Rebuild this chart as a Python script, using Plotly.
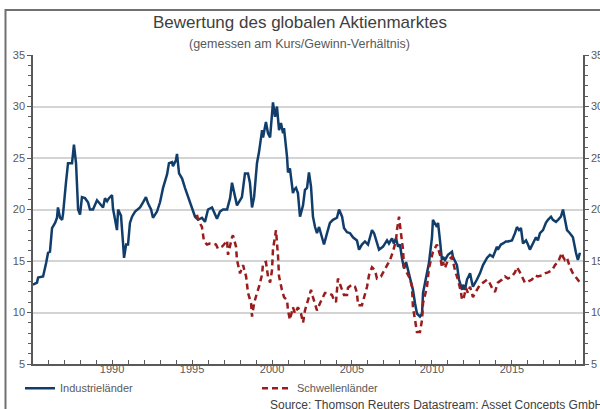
import plotly.graph_objects as go

# ---- data (decimal years, P/E values) ----
ind_years = [1985.06, 1985.31, 1985.38, 1985.69, 1985.88, 1986.00, 1986.12, 1986.25, 1986.44, 1986.56,
             1986.62, 1986.75, 1986.88, 1986.94, 1987.12, 1987.25, 1987.50, 1987.62, 1987.75, 1987.88,
             1988.00, 1988.12, 1988.31, 1988.50, 1988.62, 1988.81, 1989.06, 1989.25, 1989.44, 1989.56,
             1989.69, 1989.81, 1990.00, 1990.06, 1990.25, 1990.31, 1990.38, 1990.56, 1990.69, 1990.75,
             1990.88, 1991.00, 1991.12, 1991.25, 1991.44, 1991.62, 1991.75, 1991.94, 1992.12, 1992.25,
             1992.44, 1992.56, 1992.81, 1993.00, 1993.19, 1993.44, 1993.56, 1993.75, 1993.81, 1994.00,
             1994.06, 1994.19, 1994.38, 1994.56, 1994.75, 1994.88, 1995.00, 1995.19, 1995.38, 1995.62,
             1995.81, 1996.00, 1996.25, 1996.44, 1996.56, 1996.75, 1996.94, 1997.19, 1997.25, 1997.38,
             1997.50, 1997.62, 1997.81, 1998.12, 1998.31, 1998.50, 1998.62, 1998.75, 1998.88, 1999.06,
             1999.19, 1999.38, 1999.44, 1999.62, 1999.75, 1999.88, 2000.00, 2000.06, 2000.19, 2000.31,
             2000.44, 2000.56, 2000.69, 2000.75, 2000.94, 2001.00, 2001.12, 2001.31, 2001.38, 2001.50,
             2001.62, 2001.75, 2001.94, 2002.06, 2002.19, 2002.31, 2002.44, 2002.56, 2002.69, 2002.81,
             2002.94, 2003.12, 2003.25, 2003.44, 2003.62, 2003.81, 2004.06, 2004.19, 2004.38, 2004.50,
             2004.69, 2004.88, 2005.06, 2005.31, 2005.44, 2005.62, 2005.81, 2006.00, 2006.25, 2006.38,
             2006.56, 2006.69, 2006.94, 2007.06, 2007.19, 2007.31, 2007.50, 2007.62, 2007.75, 2007.88,
             2008.00, 2008.12, 2008.25, 2008.38, 2008.50, 2008.62, 2008.81, 2008.94, 2009.06, 2009.25,
             2009.38, 2009.44, 2009.69, 2009.81, 2010.00, 2010.06, 2010.31, 2010.38, 2010.50, 2010.62,
             2010.69, 2010.81, 2011.00, 2011.25, 2011.31, 2011.56, 2011.69, 2011.88, 2011.94, 2012.06,
             2012.19, 2012.38, 2012.50, 2012.56, 2012.81, 2013.00, 2013.19, 2013.44, 2013.62, 2013.81,
             2013.94, 2014.06, 2014.12, 2014.31, 2014.44, 2014.62, 2014.75, 2015.00, 2015.19, 2015.31,
             2015.44, 2015.56, 2015.69, 2015.88, 2016.00, 2016.12, 2016.31, 2016.50, 2016.62, 2016.75,
             2016.94, 2017.12, 2017.25, 2017.44, 2017.56, 2017.75, 2017.88, 2018.06, 2018.19, 2018.31,
             2018.44, 2018.62, 2018.81, 2019.00, 2019.12, 2019.25]
ind_values = [12.7, 12.9, 13.4, 13.5, 14.8, 15.8, 15.9, 18.2, 18.7, 19.2,
              20.2, 19.2, 19.0, 19.6, 22.6, 24.5, 24.5, 26.3, 24.5, 20.0,
              19.5, 21.2, 21.1, 20.7, 20.0, 20.0, 20.9, 20.6, 20.2, 21.1,
              20.8, 21.1, 21.4, 20.1, 18.3, 18.0, 20.0, 19.4, 16.7, 15.3,
              16.6, 16.6, 18.7, 19.3, 19.8, 20.0, 20.2, 20.7, 21.2, 20.6,
              20.0, 19.2, 19.8, 20.7, 22.1, 23.4, 24.5, 24.6, 24.2, 24.8,
              25.4, 23.5, 23.0, 22.1, 21.2, 20.6, 20.1, 19.3, 19.0, 19.2,
              18.8, 20.0, 20.2, 19.6, 19.1, 19.8, 20.0, 20.0, 20.4, 21.1,
              22.6, 21.7, 20.4, 21.2, 23.5, 23.5, 22.6, 20.2, 21.2, 24.5,
              25.6, 27.7, 27.0, 28.5, 27.4, 27.0, 29.0, 30.4, 29.0, 30.0,
              27.7, 28.4, 27.4, 27.9, 25.1, 23.6, 24.0, 21.6, 21.9, 22.1,
              21.6, 19.3, 20.4, 21.9, 22.1, 23.6, 22.2, 19.3, 18.3, 17.7,
              18.3, 17.3, 16.6, 17.7, 18.7, 19.0, 19.2, 20.0, 19.3, 18.2,
              17.8, 17.7, 17.3, 17.0, 16.1, 16.6, 16.9, 16.6, 18.0, 17.7,
              16.7, 16.1, 16.4, 16.7, 17.0, 16.7, 17.2, 16.7, 17.2, 16.4,
              16.6, 15.3, 14.3, 14.9, 14.1, 13.6, 12.2, 10.9, 9.9, 9.6,
              9.9, 11.9, 13.8, 14.8, 17.3, 19.0, 18.3, 18.7, 17.0, 15.1,
              15.4, 15.1, 15.6, 15.9, 15.4, 14.6, 13.2, 12.2, 12.7, 12.2,
              13.2, 13.8, 12.9, 12.5, 13.2, 13.8, 14.6, 15.3, 15.6, 15.4,
              15.9, 16.4, 16.1, 16.6, 16.7, 16.9, 16.9, 17.0, 17.7, 18.3,
              18.0, 18.2, 16.7, 17.0, 16.6, 16.1, 16.7, 17.3, 17.0, 17.7,
              18.0, 18.7, 19.0, 19.3, 19.0, 18.8, 19.0, 19.3, 20.0, 19.0,
              18.0, 17.7, 17.3, 15.8, 15.1, 15.8]

em_years = [1995.31, 1995.38, 1995.62, 1995.75, 1995.94, 1996.12, 1996.31, 1996.50, 1996.62, 1996.88,
            1997.00, 1997.19, 1997.25, 1997.38, 1997.50, 1997.56, 1997.75, 1997.81, 1998.00, 1998.19,
            1998.38, 1998.50, 1998.69, 1998.75, 1998.88, 1999.06, 1999.19, 1999.38, 1999.44, 1999.62,
            1999.75, 1999.88, 2000.00, 2000.06, 2000.19, 2000.25, 2000.38, 2000.44, 2000.62, 2000.75,
            2000.94, 2001.00, 2001.12, 2001.31, 2001.44, 2001.62, 2001.81, 2001.94, 2002.06, 2002.25,
            2002.44, 2002.56, 2002.81, 2003.00, 2003.19, 2003.31, 2003.50, 2003.75, 2003.88, 2004.00,
            2004.12, 2004.31, 2004.50, 2004.69, 2004.75, 2005.00, 2005.19, 2005.31, 2005.38, 2005.62,
            2005.75, 2005.94, 2006.06, 2006.25, 2006.44, 2006.56, 2006.81, 2006.94, 2007.19, 2007.38,
            2007.56, 2007.75, 2007.81, 2007.94, 2008.06, 2008.19, 2008.25, 2008.44, 2008.62, 2008.75,
            2008.81, 2008.94, 2009.06, 2009.25, 2009.38, 2009.44, 2009.69, 2009.81, 2010.06, 2010.31,
            2010.50, 2010.62, 2010.69, 2010.81, 2011.00, 2011.25, 2011.44, 2011.62, 2011.81, 2011.88,
            2012.00, 2012.12, 2012.25, 2012.38, 2012.56, 2012.81, 2013.00, 2013.19, 2013.44, 2013.56,
            2013.75, 2013.94, 2014.12, 2014.38, 2014.56, 2014.75, 2015.00, 2015.19, 2015.31, 2015.50,
            2015.69, 2015.81, 2016.00, 2016.25, 2016.44, 2016.62, 2016.88, 2017.06, 2017.25, 2017.50,
            2017.69, 2017.88, 2018.12, 2018.19, 2018.31, 2018.44, 2018.62, 2018.81, 2019.06, 2019.25]
em_values = [19.5, 19.0, 18.3, 16.9, 16.6, 16.7, 16.7, 16.6, 16.2, 16.4,
             16.6, 17.0, 15.6, 16.6, 17.3, 17.5, 16.4, 15.1, 13.8, 14.6,
             13.5, 11.9, 10.9, 9.6, 10.9, 11.9, 12.5, 13.7, 14.8, 14.9,
             13.5, 12.9, 14.1, 16.1, 17.7, 18.0, 15.4, 13.5, 12.2, 11.5,
             11.2, 10.2, 9.3, 10.5, 9.9, 10.5, 9.9, 9.0, 10.2, 11.2,
             12.2, 11.5, 10.2, 10.9, 11.5, 11.9, 11.9, 11.7, 11.2, 11.0,
             13.3, 12.5, 11.7, 11.7, 12.4, 12.7, 12.5, 11.9, 10.7, 10.7,
             11.5, 12.5, 13.6, 14.4, 14.1, 13.3, 13.5, 13.9, 14.6, 15.1,
             15.9, 17.0, 18.0, 19.3, 17.7, 16.1, 14.4, 13.8, 13.3, 12.5,
             10.5, 9.3, 8.1, 8.1, 9.3, 10.9, 12.5, 14.3, 15.9, 16.6,
             15.6, 14.4, 14.9, 14.3, 15.1, 15.4, 14.1, 13.2, 12.0, 11.2,
             11.5, 12.4, 11.9, 12.5, 11.5, 12.2, 12.7, 12.9, 13.2, 13.0,
             12.4, 12.0, 12.9, 13.2, 13.5, 13.3, 13.5, 13.9, 14.4, 13.9,
             13.2, 12.9, 13.0, 13.2, 13.6, 13.5, 13.6, 13.8, 13.9, 14.1,
             14.6, 14.9, 15.8, 15.4, 15.1, 15.3, 14.4, 13.8, 13.3, 12.9]

tick_years = list(range(1986, 2020))
tick_labels = [str(y) if y % 5 == 0 else "" for y in tick_years]
y_ticks = [5, 10, 15, 20, 25, 30, 35]

series_names = ["Industrieländer", "Schwellenländer"]
title_text = "Bewertung des globalen Aktienmarktes"
subtitle_text = "(gemessen am Kurs/Gewinn-Verhältnis)"
source_text = "Source: Thomson Reuters Datastream; Asset Concepts GmbH"

BLUE = "#113d6b"
RED = "#9a1c1c"
GREY = "#595959"
FONT = "Liberation Sans, Arial, sans-serif"

fig = go.Figure()
fig.add_trace(go.Scatter(x=ind_years, y=ind_values, mode="lines", name=series_names[0],
                         line=dict(color=BLUE, width=2.5), yaxis="y"))
fig.add_trace(go.Scatter(x=em_years, y=em_values, mode="lines", name=series_names[1],
                         line=dict(color=RED, width=2.5, dash="6px,4px"), yaxis="y2"))

axis_common = dict(range=[5, 35], tickvals=y_ticks, ticks="outside", ticklen=4,
                   tickcolor=GREY, showline=True, linecolor=GREY, linewidth=1.5,
                   tickfont=dict(size=11, color=GREY, family=FONT), zeroline=False,
                   automargin=False,
                   minor=dict(dtick=1, ticks="outside", ticklen=3, tickcolor=GREY, showgrid=False))

fig.update_layout(
    width=600, height=409,
    margin=dict(l=33, r=17, t=55, b=45),
    paper_bgcolor="white", plot_bgcolor="white",
    font=dict(family=FONT, color=GREY),
    showlegend=True,
    legend=dict(orientation="h", xref="container", yref="container",
                x=0.0333, y=0.051, xanchor="left", yanchor="middle",
                font=dict(size=11, color=GREY, family=FONT),
                entrywidth=192, entrywidthmode="pixels", bgcolor="rgba(0,0,0,0)"),
    xaxis=dict(range=[1985.06, 2019.44], tickvals=tick_years, ticktext=tick_labels,
               ticks="inside", ticklen=4, tickcolor=GREY, showline=True, linecolor=GREY,
               linewidth=1.5, showgrid=False, zeroline=False, automargin=False,
               ticklabelstandoff=-6,
               tickfont=dict(size=11, color=GREY, family=FONT)),
    yaxis=dict(side="left", showgrid=True, gridcolor="#d4d4d4", gridwidth=1.5, **axis_common),
    yaxis2=dict(side="right", overlaying="y", showgrid=False, **axis_common),
)

fig.add_annotation(text=title_text, x=0.485, y=1.105, xref="paper", yref="paper",
                   showarrow=False, xanchor="center", yanchor="middle",
                   font=dict(size=17, color="#404040", family=FONT))
fig.add_annotation(text=subtitle_text, x=0.485, y=1.037, xref="paper", yref="paper",
                   showarrow=False, xanchor="center", yanchor="middle",
                   font=dict(size=12.5, color=GREY, family=FONT))
fig.add_annotation(text=source_text, x=1.04, y=-0.133, xref="paper", yref="paper",
                   showarrow=False, xanchor="right", yanchor="middle",
                   font=dict(size=12, color="#404040", family=FONT))

# outer frame of the original graphic
fig.add_shape(type="rect", xref="paper", yref="paper", x0=-0.05, y0=-0.2, x1=1.1, y1=1.146,
              line=dict(color="#707070", width=2), fillcolor="rgba(0,0,0,0)", layer="below")

fig.write_html("out.html")
